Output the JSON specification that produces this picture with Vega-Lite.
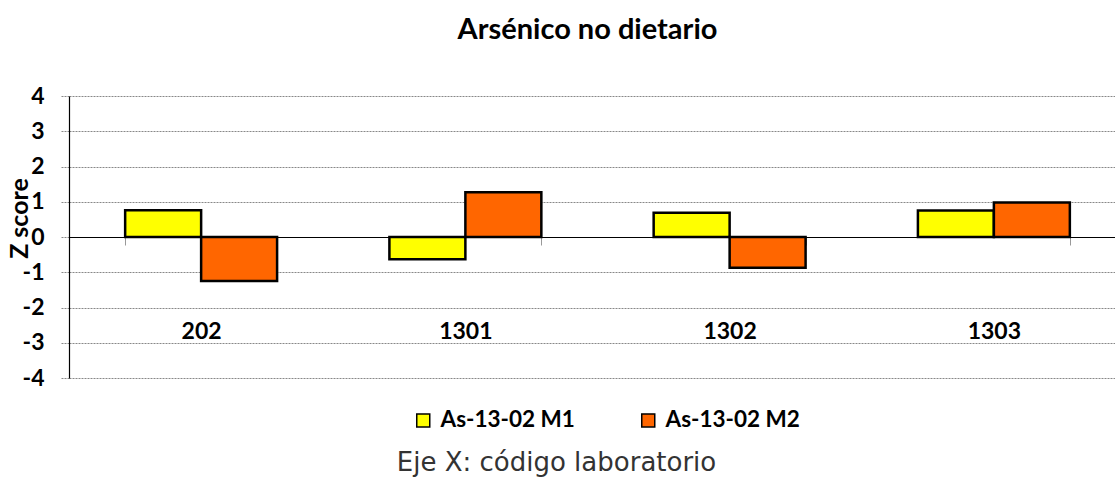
{
  "$schema": "https://vega.github.io/schema/vega-lite/v6.json",
  "width": 1057,
  "height": 282,
  "autosize": {"type": "none"},
  "padding": {"left": 69, "top": 96, "right": 0, "bottom": 104},
  "background": "white",
  "title": {
    "text": "Arsénico no dietario",
    "font": "Lato",
    "fontSize": 29,
    "fontWeight": "bold",
    "color": "black",
    "anchor": "middle",
    "frame": "group",
    "dx": -10,
    "offset": 40
  },
  "data": {
    "values": [
      {"lab": "202", "serie": "As-13-02 M1", "z": 0.76},
      {"lab": "202", "serie": "As-13-02 M2", "z": -1.25},
      {"lab": "1301", "serie": "As-13-02 M1", "z": -0.63},
      {"lab": "1301", "serie": "As-13-02 M2", "z": 1.27},
      {"lab": "1302", "serie": "As-13-02 M1", "z": 0.69},
      {"lab": "1302", "serie": "As-13-02 M2", "z": -0.87},
      {"lab": "1303", "serie": "As-13-02 M1", "z": 0.75},
      {"lab": "1303", "serie": "As-13-02 M2", "z": 0.98}
    ]
  },
  "mark": {"type": "bar", "stroke": "black", "strokeWidth": 2.5},
  "encoding": {
    "x": {
      "field": "lab",
      "type": "nominal",
      "sort": ["202", "1301", "1302", "1303"],
      "scale": {"paddingInner": 0.425, "paddingOuter": 0.2125},
      "axis": {
        "title": "Eje X: código laboratorio",
        "titleFont": "DejaVu Sans",
        "titleFontSize": 26,
        "titleFontWeight": "normal",
        "titleColor": "#333333",
        "titleX": 487,
        "titleY": 225,
        "titleAlign": "center",
        "titleBaseline": "middle",
        "offset": -141,
        "labelAngle": 0,
        "labelFont": "Lato",
        "labelFontSize": 23,
        "labelFontWeight": "bold",
        "labelColor": "black",
        "labelBaseline": "middle",
        "labelPadding": 86,
        "tickBand": "extent",
        "tickSize": 8,
        "tickColor": "#999999",
        "domainColor": "black",
        "domainWidth": 1.2,
        "grid": false
      }
    },
    "xOffset": {
      "field": "serie",
      "type": "nominal",
      "scale": {"paddingInner": 0, "paddingOuter": 0}
    },
    "y": {
      "field": "z",
      "type": "quantitative",
      "scale": {"domain": [-4, 4], "nice": false},
      "axis": {
        "title": "Z score",
        "titleFont": "Lato",
        "titleFontSize": 25,
        "titleFontWeight": "bold",
        "titleColor": "black",
        "titleX": -50,
        "titleY": 122,
        "titleAlign": "center",
        "titleBaseline": "middle",
        "values": [-4, -3, -2, -1, 0, 1, 2, 3, 4],
        "labelExpr": "'' + datum.value",
        "labelFont": "Lato",
        "labelFontSize": 23,
        "labelFontWeight": "bold",
        "labelColor": "black",
        "labelPadding": 17,
        "tickSize": 8,
        "tickColor": "#888888",
        "tickDash": [2, 1],
        "domainColor": "black",
        "domainWidth": 1.2,
        "grid": true,
        "gridColor": "#888888",
        "gridDash": [2, 1],
        "gridWidth": 1
      }
    },
    "color": {
      "field": "serie",
      "type": "nominal",
      "scale": {"domain": ["As-13-02 M1", "As-13-02 M2"], "range": ["#FFFF00", "#FF6600"]},
      "legend": {
        "title": null,
        "orient": "none",
        "direction": "horizontal",
        "legendX": 343,
        "legendY": 313,
        "symbolType": "square",
        "symbolSize": 169,
        "symbolStrokeColor": "black",
        "symbolStrokeWidth": 1.5,
        "symbolOpacity": 1,
        "labelFont": "Lato",
        "labelFontSize": 22.5,
        "labelFontWeight": "bold",
        "labelColor": "black",
        "labelOffset": 6,
        "columnPadding": 62,
        "labelLimit": 300
      }
    }
  },
  "config": {
    "view": {"stroke": null}
  }
}
